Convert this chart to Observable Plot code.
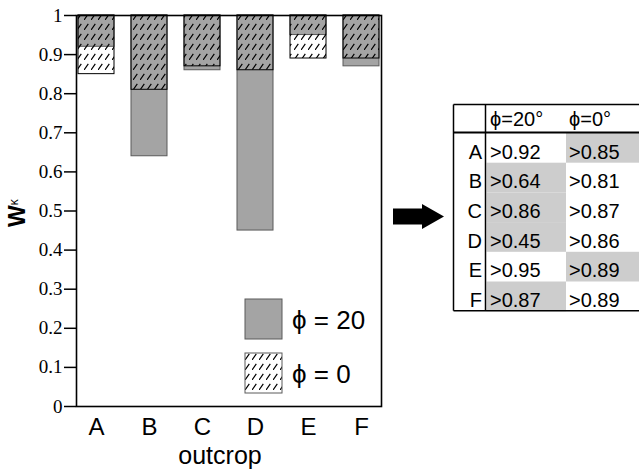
<!DOCTYPE html>
<html><head><meta charset="utf-8">
<script src="https://cdn.jsdelivr.net/npm/d3@7"></script>
<script src="https://cdn.jsdelivr.net/npm/@observablehq/plot@0.6"></script>
<style>
body{margin:0;background:#fff}
#chart{width:639px;height:469px;overflow:hidden}
.serif-tick{font-family:"Liberation Serif","DejaVu Serif",serif !important}
</style>
</head><body><div id="chart"></div>
<script>
// ---- data ----
const outcrops = ["A", "B", "C", "D", "E", "F"];
const phi20 = [0.92, 0.64, 0.86, 0.45, 0.95, 0.87];
const phi0 = [0.85, 0.81, 0.87, 0.86, 0.89, 0.89];
const yTicks = [0, 0.1, 0.2, 0.3, 0.4, 0.5, 0.6, 0.7, 0.8, 0.9, 1];
const yTickLabels = ["0", "0.1", "0.2", "0.3", "0.4", "0.5", "0.6", "0.7", "0.8", "0.9", "1"];
const legendLabels = ["ϕ = 20", "ϕ = 0"];
const tableHeaders = ["ϕ=20°", "ϕ=0°"];
const xLabel = "outcrop";

const rows = outcrops.map((o, i) => ({outcrop: o, phi20: phi20[i], phi0: phi0[i]}));
const GRAY = "#a4a4a4", GRAY_STROKE = "#5a5a5a", CELL_GRAY = "#cdcdcd";
const SANS = "'Liberation Sans', Arial, Helvetica, sans-serif";
const SERIF = "'Liberation Serif', 'DejaVu Serif', serif";

const chart = Plot.plot({
  width: 639, height: 469,
  marginLeft: 76, marginRight: 258, marginTop: 15, marginBottom: 63,
  style: {fontFamily: SANS, background: "white", color: "black"},
  x: {domain: outcrops, paddingInner: 0.33, paddingOuter: 0, label: null},
  y: {domain: [0, 1], label: null},
  marks: [
    Plot.barY(rows, {x: "outcrop", y1: "phi20", y2: 1, fill: GRAY, stroke: GRAY_STROKE, strokeWidth: 1}),
    Plot.barY(rows, {x: "outcrop", y1: "phi0", y2: 1, fill: "url(#hatch)", stroke: "#000", strokeWidth: 1}),
    Plot.frame({stroke: "#000", strokeWidth: 1.6}),
    Plot.axisY({ticks: yTicks, tickSize: 12, tickPadding: 2, strokeWidth: 1.5,
      tickFormat: d => yTickLabels[yTicks.findIndex(t => Math.abs(t - d) < 1e-9)],
      fontSize: 19, fontFamily: SERIF, label: null}),
    Plot.axisX({tickSize: 0, tickPadding: 11, fontSize: 24, label: null})
  ]
});
document.getElementById("chart").appendChild(chart);

const svg = d3.select(chart);
// force serif on y tick labels
svg.selectAll("text").filter(function () {
  return yTickLabels.includes(this.textContent);
}).classed("serif-tick", true).attr("font-family", SERIF);

// hatch pattern
const defs = svg.insert("defs", ":first-child");
const pat = defs.append("pattern").attr("id", "hatch").attr("patternUnits", "userSpaceOnUse")
  .attr("width", 7).attr("height", 10);
pat.append("line").attr("x1", 0).attr("y1", 10).attr("x2", 7).attr("y2", 0)
  .attr("stroke", "#000").attr("stroke-width", 1.2).attr("stroke-dasharray", "7.5,4.7");

// x axis title
svg.append("text").attr("x", 220).attr("y", 464).attr("text-anchor", "middle")
  .attr("font-family", SANS).attr("font-size", 25).text(xLabel);

// y axis title W^κ
const yl = svg.append("text").attr("transform", "translate(25,227) rotate(-90)")
  .attr("text-anchor", "start")
  .attr("font-family", SANS).attr("font-size", 23).attr("font-weight", 600);
yl.append("tspan").text("W");
yl.append("tspan").attr("dy", -7).attr("font-size", 12).attr("font-weight", 400).text("κ");

// legend
const lg = svg.append("g").attr("text-anchor", "start");
[0, 1].forEach(i => {
  const y = 299 + i * 54;
  lg.append("rect").attr("x", 245).attr("y", y).attr("width", 37).attr("height", 40)
    .attr("fill", i === 0 ? GRAY : "url(#hatch)").attr("stroke", GRAY_STROKE).attr("stroke-width", 1);
  lg.append("text").attr("x", 292).attr("y", y + 30).attr("font-family", SANS)
    .attr("font-size", 26).text(legendLabels[i]);
});

// arrow
svg.append("polygon")
  .attr("points", "393,208.5 422,208.5 422,204 444,216.5 422,229 422,224.5 393,224.5")
  .attr("fill", "#000");

// table
const tb = svg.append("g").attr("font-family", SANS).attr("text-anchor", "start");
const tx0 = 453.5, tc1 = 485.5, tc2 = 566, tx3 = 642;
const ty0 = 104.5, tyH = 132.5, rh = 29.7;
const tyB = tyH + rh * outcrops.length;
outcrops.forEach((o, i) => {
  const y = tyH + i * rh;
  const lowIsPhi20 = phi20[i] < phi0[i];
  tb.append("rect").attr("x", lowIsPhi20 ? tc1 + 1 : tc2).attr("y", y + 0.5)
    .attr("width", lowIsPhi20 ? tc2 - tc1 - 1 : tx3 - tc2).attr("height", rh)
    .attr("fill", CELL_GRAY);
  tb.append("text").attr("x", 482).attr("y", y + 26).attr("text-anchor", "end")
    .attr("font-size", 20).text(o);
  tb.append("text").attr("x", 490).attr("y", y + 26).attr("font-size", 20).text(">" + phi20[i].toFixed(2));
  tb.append("text").attr("x", 569).attr("y", y + 26).attr("font-size", 20).text(">" + phi0[i].toFixed(2));
});
tableHeaders.forEach((h, j) => {
  tb.append("text").attr("x", j === 0 ? 490 : 569).attr("y", 126).attr("font-size", 20).text(h);
});
const ln = (x1, y1, x2, y2, w) => tb.append("line").attr("x1", x1).attr("y1", y1).attr("x2", x2).attr("y2", y2)
  .attr("stroke", "#000").attr("stroke-width", w);
ln(tx0, ty0, tx3, ty0, 1.5);
ln(tx0, tyB, tx3, tyB, 1.5);
ln(tx0, ty0, tx0, tyB, 1.5);
ln(tc1, ty0, tc1, tyB, 1.5);
ln(tx0, tyH, tx3, tyH, 2);
</script>
</body></html>
